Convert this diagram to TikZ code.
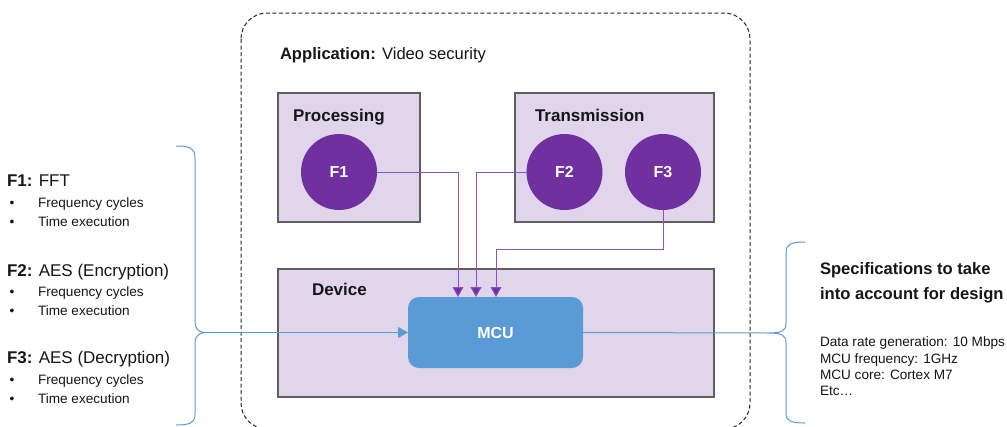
\documentclass[tikz,border=0pt]{standalone}
\usepackage{fontspec}
\setmainfont{Liberation Sans}
\usetikzlibrary{arrows.meta}
\definecolor{boxfill}{HTML}{E1D5EB}
\definecolor{boxline}{HTML}{5F5F5F}
\definecolor{fpurple}{HTML}{7030A0}
\definecolor{lpurple}{HTML}{8B52BE}
\definecolor{mcublue}{HTML}{5B9BD5}
\definecolor{txt}{HTML}{161616}
\begin{document}
\begin{tikzpicture}[x=1pt,y=-1pt,
  every node/.style={inner sep=0pt, outer sep=0pt, text=txt},
  areabox/.style={draw=boxline, line width=1.2pt, fill=boxfill},
  fcircle/.style={circle, fill=fpurple, minimum size=76pt, text=white, font=\fontsize{16}{18}\selectfont\bfseries},
  plink/.style={draw=lpurple, line width=1pt, -{Triangle[width=11pt,length=10pt,fill=fpurple]}},
  blink/.style={draw=mcublue, line width=1pt},
  brace/.style={draw=mcublue, line width=1pt},
  head/.style={anchor=base west, font=\fontsize{17}{20}\selectfont},
  small/.style={anchor=base west, font=\fontsize{13.6}{16}\selectfont},
  bul/.style={anchor=base, font=\fontsize{13.6}{16}\selectfont}
]
\useasboundingbox (0,0) rectangle (1007,426);
\fill[white] (0,0) rectangle (1007,426);

% dashed application container
\begin{scope}
\clip (0,0) rectangle (1007,426);
\draw[draw=black!85, line width=1pt, dash pattern=on 4pt off 2.5pt, rounded corners=26pt] (241,13) rectangle (750,429);
\end{scope}
\node[anchor=base west, font=\fontsize{16.6}{20}\selectfont] (app) at (280,59) {\textbf{Application:} Video security};

% boxes
\node[areabox, minimum width=142pt, minimum height=129pt] (proc) at (349,157.5) {};
\node[areabox, minimum width=199pt, minimum height=129pt] (trans) at (614.5,157.5) {};
\node[areabox, minimum width=436pt, minimum height=128pt] (dev) at (496,333) {};
\node[anchor=base west, font=\fontsize{17}{20}\selectfont\bfseries] (proct) at (293,121.5) {Processing};
\node[anchor=base west, font=\fontsize{17}{20}\selectfont\bfseries] (transt) at (535,121.5) {Transmission};
\node[anchor=base west, font=\fontsize{17}{20}\selectfont\bfseries] (devt) at (312,295) {Device};

% functions
\node[fcircle] (F1) at (339,172) {F1};
\node[fcircle] (F2) at (564.5,172) {F2};
\node[fcircle] (F3) at (663,172) {F3};

% MCU
\node[fill=mcublue, rounded corners=11pt, minimum width=175pt, minimum height=71pt, text=white, font=\fontsize{16}{18}\selectfont\bfseries] (MCU) at (495.5,332.5) {MCU};

% connectors to MCU
\coordinate (m1) at (458,297);
\coordinate (m2) at (476,297);
\coordinate (m3) at (496,297);
\coordinate (k3) at (663,249);
\draw[plink] (F1.east) -| (m1);
\draw[plink] (F2.west) -| (m2);
\draw[plink] (F3.south) -- (k3) -| (m3);

% left brace
\coordinate (lb) at (207,332.5);
\draw[brace] (176,146) .. controls (190,146) and (195,148) .. (195,158) -- (195,321)
  .. controls (195,330) and (199,332.5) .. (lb)
  .. controls (199,332.5) and (195,335) .. (195,344) -- (195,414)
  .. controls (195,423) and (190,425) .. (176,425);
\draw[blink, -{Triangle[width=11pt,length=10pt,fill=mcublue]}] (lb) -- (MCU.west);

% right brace
\coordinate (rb) at (768,333);
\draw[brace] (805,242) .. controls (791,242) and (786,244) .. (786,253) -- (786,323)
  .. controls (786,331) and (782,333) .. (rb)
  .. controls (782,333) and (786,335) .. (786,343) -- (786,413)
  .. controls (786,421) and (791,423) .. (805,423);
\draw[blink] (MCU.east) -- (rb);

% left texts
\node[head] (t1) at (7,186.5) {\textbf{F1:} FFT};
\node[bul] (b11) at (12,207.3) {•};
\node[small] (t11) at (38,207.3) {Frequency cycles};
\node[bul] (b12) at (12,226.7) {•};
\node[small] (t12) at (38,226.7) {Time execution};

\node[head] (t2) at (7,276.5) {\textbf{F2:} AES (Encryption)};
\node[bul] (b21) at (12,296) {•};
\node[small] (t21) at (38,296) {Frequency cycles};
\node[bul] (b22) at (12,315.3) {•};
\node[small] (t22) at (38,315.3) {Time execution};

\node[head] (t3) at (7,363.3) {\textbf{F3:} AES (Decryption)};
\node[bul] (b31) at (12,384) {•};
\node[small] (t31) at (38,384) {Frequency cycles};
\node[bul] (b32) at (12,403.3) {•};
\node[small] (t32) at (38,403.3) {Time execution};

% right texts
\node[anchor=base west, font=\fontsize{16.6}{20}\selectfont\bfseries] (s1) at (820,274) {Specifications to take};
\node[anchor=base west, font=\fontsize{16.6}{20}\selectfont\bfseries] (s2) at (820,299.3) {into account for design};
\node[small] (r1) at (820,346.7) {Data rate generation: 10 Mbps};
\node[small] (r2) at (820,363) {MCU frequency: 1GHz};
\node[small] (r3) at (820,379.3) {MCU core: Cortex M7};
\node[small] (r4) at (820,395.7) {Etc…};
\end{tikzpicture}
\end{document}
